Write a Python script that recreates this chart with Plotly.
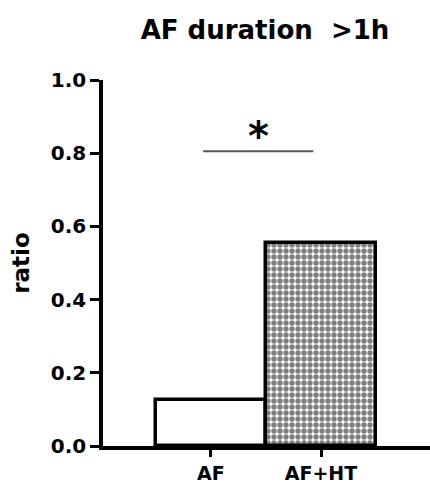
import plotly.graph_objects as go

categories = ["AF", "AF+HT"]
values = [0.125, 0.556]
y_ticks = [0.0, 0.2, 0.4, 0.6, 0.8, 1.0]
y_ticklabels = ["0.0", "0.2", "0.4", "0.6", "0.8", "1.0"]
title_text = "AF duration  >1h"
y_title = "ratio"
sig_text = "*"
sig_level = 0.805

FONT = "DejaVu Sans"

fig = go.Figure()
fig.add_trace(go.Bar(
    x=categories[:1], y=values[:1], width=1.0,
    marker=dict(color="white", line=dict(color="black", width=3.5)),
    showlegend=False,
))
fig.add_trace(go.Bar(
    x=categories[1:], y=values[1:], width=1.0,
    marker=dict(
        color="white",
        line=dict(color="black", width=3.5),
        pattern=dict(shape=".", fgcolor="black", bgcolor="white",
                     size=6, solidity=0.62, fillmode="overlay"),
    ),
    showlegend=False,
))

# significance bracket
fig.add_shape(type="line", xref="x", yref="y",
              x0=-0.07, x1=0.93, y0=sig_level, y1=sig_level,
              line=dict(color="#555555", width=2))
fig.add_annotation(x=0.43, y=sig_level, xref="x", yref="y",
                   text="<b>" + sig_text + "</b>", showarrow=False,
                   yanchor="bottom", yshift=-10,
                   font=dict(family=FONT, size=40, color="black"))

fig.update_layout(
    width=430, height=486,
    margin=dict(l=103, r=0, t=80, b=40),
    paper_bgcolor="white", plot_bgcolor="white",
    title=dict(text="<b>" + title_text + "</b>", x=265 / 430, xanchor="center",
               xref="container", y=1 - 30 / 486, yanchor="middle", yref="container",
               font=dict(family=FONT, size=26, color="black")),
    barmode="overlay",
    bargap=0,
    xaxis=dict(
        type="category", categoryorder="array", categoryarray=categories,
        range=[-0.98, 1.99], automargin=False,
        showline=True, linecolor="black", linewidth=3.5,
        ticks="outside", ticklen=7, tickwidth=3, tickcolor="black",
        tickfont=dict(family=FONT, size=19, color="black"),
        ticklabelstandoff=0,
        tickprefix="<b>", ticksuffix="</b>",
        showgrid=False, zeroline=False,
    ),
    yaxis=dict(
        range=[0, 1.0], tickvals=y_ticks, ticktext=["<b>" + t + "</b>" for t in y_ticklabels],
        automargin=False,
        showline=True, linecolor="black", linewidth=3.5,
        ticks="outside", ticklen=9, tickwidth=3, tickcolor="black",
        tickfont=dict(family=FONT, size=20, color="black"),
        showgrid=False, zeroline=False,
        title=dict(text="<b>" + y_title + "</b>", standoff=16,
                   font=dict(family=FONT, size=23, color="black")),
    ),
)

fig.write_html("out.html")
